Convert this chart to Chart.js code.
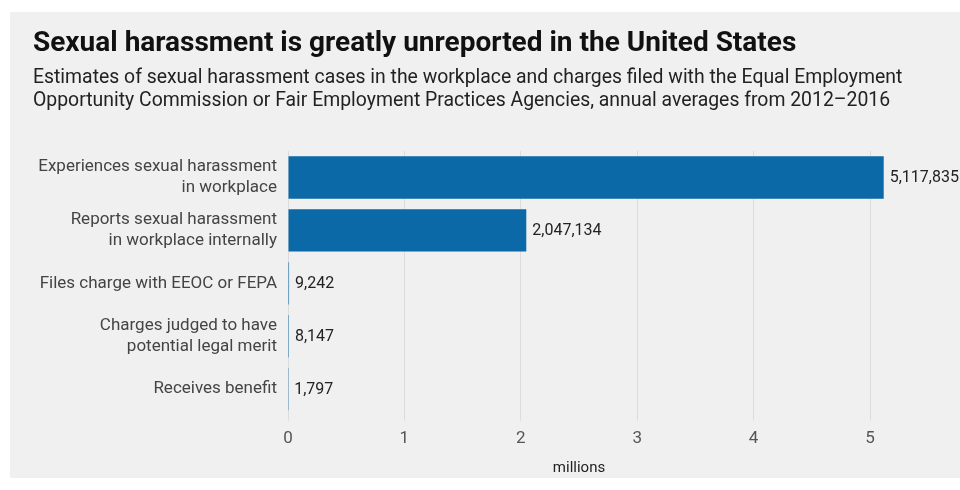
<!DOCTYPE html>
<html>
<head>
<meta charset="utf-8">
<script src="https://cdn.jsdelivr.net/npm/chart.js@4"></script>
<style>
  html, body { margin: 0; padding: 0; background: #fff; }
  #panel { position: absolute; left: 10px; top: 12px; width: 950px; height: 466px; background: #f0f0f0;
           font-family: Roboto, 'Noto Sans', sans-serif; }
  #panel h1 { position: absolute; left: 23px; top: 16px; margin: 0; font-size: 28px; line-height: 28px;
              font-weight: bold; color: #111; white-space: nowrap; }
  #panel p { position: absolute; left: 23px; top: 53px; margin: 0; font-size: 19.4px; line-height: 23px;
             color: #222; white-space: nowrap; }
  #chart { position: absolute; left: 0; top: 0; }
</style>
</head>
<body>
<div id="panel">
  <canvas id="chart" width="950" height="466"></canvas>
  <h1>Sexual harassment is greatly unreported in the United States</h1>
  <p>Estimates of sexual harassment cases in the workplace and charges filed with the Equal Employment<br>
     Opportunity Commission or Fair Employment Practices Agencies, annual averages from 2012–2016</p>
</div>
<script>
// categories and values (annual averages, 2012-2016)
var categories = [
  ["Experiences sexual harassment", "in workplace"],
  ["Reports sexual harassment", "in workplace internally"],
  "Files charge with EEOC or FEPA",
  ["Charges judged to have", "potential legal merit"],
  "Receives benefit"
];
var cases = [5117835, 2047134, 9242, 8147, 1797];
var tickValues = [0, 1, 2, 3, 4, 5];

var FONT = "Roboto, 'Noto Sans', sans-serif";

// draws the number at the end of each bar
var valueLabels = {
  id: "valueLabels",
  afterDatasetsDraw: function (chart) {
    var ctx = chart.ctx;
    var meta = chart.getDatasetMeta(0);
    ctx.save();
    ctx.font = "16px " + FONT;
    ctx.fillStyle = "#222";
    ctx.textAlign = "left";
    ctx.textBaseline = "middle";
    meta.data.forEach(function (bar, i) {
      ctx.fillText(cases[i].toLocaleString("en-US"), bar.x + 6, bar.y + 1);
    });
    ctx.restore();
  }
};

new Chart(document.getElementById("chart"), {
  type: "bar",
  data: {
    labels: categories,
    datasets: [{
      data: cases.map(function (v) { return v / 1e6; }),
      backgroundColor: "#0a69a6",
      barPercentage: 0.8,
      categoryPercentage: 1,
      clip: false
    }]
  },
  options: {
    indexAxis: "y",
    responsive: false,
    animation: false,
    layout: { padding: { left: 23, right: 90, top: 139, bottom: 1 } },
    plugins: {
      legend: { display: false },
      tooltip: { enabled: false }
    },
    scales: {
      x: {
        min: 0,
        max: 5,
        afterBuildTicks: function (scale) {
          scale.ticks = tickValues.map(function (v) { return { value: v }; });
        },
        grid: { color: "#dcdcdc", tickLength: 5 },
        border: { display: false },
        ticks: { color: "#555", font: { family: FONT, size: 17 }, padding: 8 },
        title: {
          display: true,
          text: "millions",
          color: "#222",
          font: { family: FONT, size: 15 },
          padding: { top: 2, bottom: 0 }
        }
      },
      y: {
        grid: { display: false, drawTicks: false },
        border: { display: false },
        ticks: { color: "#444", font: { family: FONT, size: 17, lineHeight: 1.25 }, padding: 11 },
        afterFit: function (scale) { scale.width = 255; }
      }
    }
  },
  plugins: [valueLabels]
});
</script>
</body>
</html>
